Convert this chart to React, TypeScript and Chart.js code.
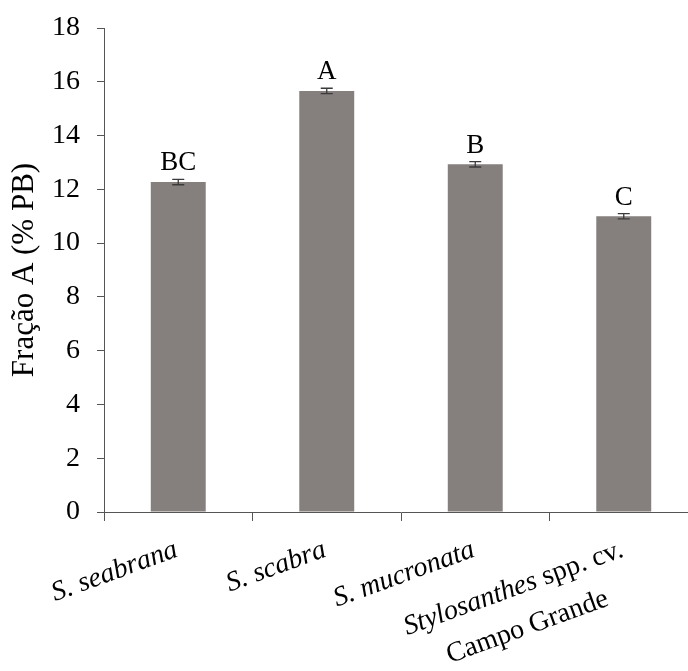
import React, { useEffect, useRef } from 'react';
import { Chart, registerables } from 'chart.js';

Chart.register(...registerables);

const categories = ['S. seabrana', 'S. scabra', 'S. mucronata', 'Stylosanthes spp. cv. Campo Grande'];
const values = [12.27, 15.66, 12.93, 11.0];
const errors = [0.1, 0.1, 0.1, 0.1];
const letters = ['BC', 'A', 'B', 'C'];
const yTitle = 'Fração A (% PB)';
// rich category labels: lines of runs [text, italic]
const labelRuns: [string, boolean][][][] = [
  [[['S. seabrana', true]]],
  [[['S. scabra', true]]],
  [[['S. mucronata', true]]],
  [[['Stylosanthes', true], [' spp. cv.', false]], [['Campo Grande', false]]],
];

const SERIF = '"Liberation Serif", "Times New Roman", serif';

const annotate = {
  id: 'annotate',
  afterDatasetsDraw(chart: any) {
    const ctx = chart.ctx;
    const y = chart.scales.y;
    const meta = chart.getDatasetMeta(0);
    ctx.save();
    meta.data.forEach((bar: any, i: number) => {
      const x = bar.x;
      const top = y.getPixelForValue(values[i] + errors[i]);
      const bot = y.getPixelForValue(values[i] - errors[i]);
      ctx.strokeStyle = '#3a3a3a';
      ctx.lineWidth = 1.3;
      ctx.beginPath();
      ctx.moveTo(x, top);
      ctx.lineTo(x, bot);
      ctx.moveTo(x - 6, top);
      ctx.lineTo(x + 6, top);
      ctx.moveTo(x - 6, bot);
      ctx.lineTo(x + 6, bot);
      ctx.stroke();
      ctx.fillStyle = '#000';
      ctx.font = `27px ${SERIF}`;
      ctx.textAlign = 'center';
      ctx.textBaseline = 'alphabetic';
      ctx.fillText(letters[i], x, top - 9);
    });
    ctx.restore();
  },
  afterDraw(chart: any) {
    const ctx = chart.ctx;
    const xs = chart.scales.x;
    const axisY = chart.chartArea.bottom;
    const ang = (-20 * Math.PI) / 180;
    const lineH = 41;
    ctx.save();
    ctx.fillStyle = '#000';
    ctx.textBaseline = 'alphabetic';
    ctx.textAlign = 'left';
    labelRuns.forEach((lines, i) => {
      const cx = xs.getPixelForValue(i);
      const widths = lines.map((runs) =>
        runs.reduce((w, [t, it]) => {
          ctx.font = `${it ? 'italic ' : ''}28px ${SERIF}`;
          return w + ctx.measureText(t).width;
        }, 0)
      );
      const blockW = Math.max(...widths);
      ctx.save();
      ctx.translate(cx + 1, axisY + 44);
      ctx.rotate(ang);
      lines.forEach((runs, j) => {
        let xx = -blockW + (blockW - widths[j]) / 2;
        runs.forEach(([t, it]) => {
          ctx.font = `${it ? 'italic ' : ''}28px ${SERIF}`;
          ctx.fillText(t, xx, j * lineH);
          xx += ctx.measureText(t).width;
        });
      });
      ctx.restore();
    });
    ctx.restore();
  },
};

export default function App() {
  const ref = useRef<HTMLCanvasElement>(null);
  useEffect(() => {
    if (!ref.current) return;
    const chart = new Chart(ref.current, {
      type: 'bar',
      data: {
        labels: categories,
        datasets: [
          {
            data: values,
            backgroundColor: '#857f7e',
            borderWidth: 0,
            barPercentage: 0.37,
            categoryPercentage: 1,
          },
        ],
      },
      options: {
        responsive: false,
        animation: false,
        devicePixelRatio: 1,
        layout: { padding: { top: 28, left: 0, right: 0, bottom: 0 } },
        plugins: { legend: { display: false }, tooltip: { enabled: false } },
        scales: {
          x: {
            ticks: { display: false },
            grid: {
              offset: true,
              drawOnChartArea: false,
              drawTicks: true,
              tickLength: 9,
              color: '#555',
            },
            border: { color: '#555', width: 1 },
            afterFit: (s: any) => {
              s.height = 159;
              s.paddingLeft = 0;
              s.paddingRight = 0;
            },
          },
          y: {
            min: 0,
            max: 18,
            ticks: {
              stepSize: 2,
              padding: 17,
              color: '#000',
              font: { family: SERIF, size: 28 },
            },
            grid: { drawOnChartArea: false, drawTicks: true, tickLength: 7, color: '#555' },
            border: { color: '#555', width: 1 },
            title: {
              display: true,
              text: yTitle,
              color: '#000',
              font: { family: SERIF, size: 31 },
              padding: { top: 6, bottom: 0 },
            },
            afterFit: (s: any) => {
              s.width = 104;
              s.paddingTop = 0;
              s.paddingBottom = 0;
            },
          },
        },
      },
      plugins: [annotate],
    });
    return () => chart.destroy();
  }, []);
  return (
    <div style={{ position: 'absolute', left: 0, top: 0, width: 688, height: 671, overflow: 'hidden', background: '#fff' }}>
      <canvas ref={ref} width={698} height={671} style={{ display: 'block' }} />
    </div>
  );
}
